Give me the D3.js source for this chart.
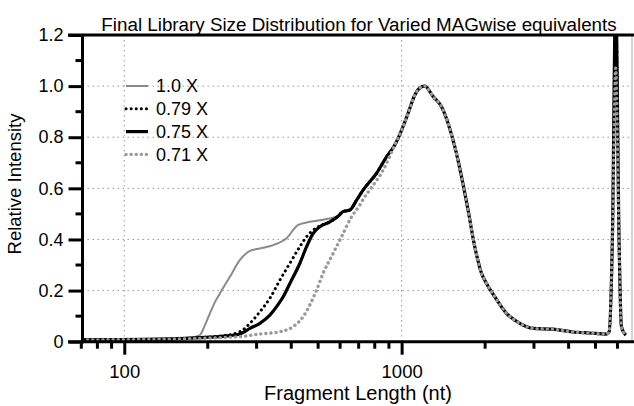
<!DOCTYPE html>
<html>
<head>
<meta charset="utf-8">
<script src="https://cdn.jsdelivr.net/npm/d3@7"></script>
<style>
  body { margin: 0; background: #fff; }
  svg { display: block; font-family: "Liberation Sans", Arial, sans-serif; }
</style>
</head>
<body>
<svg></svg>
<script>
// fragment length (nt) and relative intensity
// own left part of each curve
const size10 = [70.7, 96.5, 134.5, 172.5, 187.4, 195.4, 203.6, 212.3, 221.2, 240.4, 261.2, 283.8, 308.3, 344.3, 384.8, 423.7, 466.9, 536.3, 590.4];
const int10 = [0.011, 0.011, 0.013, 0.016, 0.026, 0.065, 0.111, 0.155, 0.189, 0.254, 0.320, 0.355, 0.365, 0.378, 0.405, 0.457, 0.469, 0.480, 0.492];

const size079 = [70.7, 123.8, 221.2, 261.2, 283.8, 308.3, 335, 364, 395.5, 429.7, 454.3, 479.9, 507.3, 551.2, 589];
const int079 = [0.007, 0.009, 0.022, 0.039, 0.072, 0.117, 0.170, 0.241, 0.307, 0.372, 0.411, 0.437, 0.453, 0.469, 0.490];

const size075 = [70.7, 123.8, 203.6, 240.4, 261.2, 283.8, 308.3, 335, 354.2, 374.1, 395.5, 429.7, 454.3, 479.9, 507.3, 551.2, 589];
const int075 = [0.007, 0.009, 0.018, 0.024, 0.030, 0.052, 0.072, 0.104, 0.137, 0.176, 0.228, 0.307, 0.372, 0.424, 0.450, 0.469, 0.490];

const size071 = [70.7, 123.8, 261.2, 308.3, 364, 406.4, 441.6, 466.9, 493.5, 521.3, 566.6, 607.4, 660, 707, 727, 768, 858];
const int071 = [0.007, 0.009, 0.020, 0.030, 0.039, 0.059, 0.098, 0.144, 0.202, 0.268, 0.346, 0.411, 0.489, 0.535, 0.558, 0.594, 0.672];

// shared by 1.0X, 0.79X and 0.75X once they merge
const sizeMid = [615, 651, 688, 727, 812, 882];
const intMid = [0.509, 0.515, 0.554, 0.594, 0.659, 0.723];

// all four curves overlap from here on
const sizeTail = [945, 1000, 1055, 1116, 1163, 1212, 1299, 1393, 1471, 1555, 1644, 1736, 1835, 1941, 2023, 2167, 2388, 2667, 2978, 3515, 4140, 4767, 5475];
const intTail = [0.770, 0.828, 0.894, 0.965, 0.993, 1.000, 0.959, 0.919, 0.854, 0.763, 0.646, 0.515, 0.372, 0.268, 0.228, 0.176, 0.111, 0.072, 0.052, 0.049, 0.038, 0.034, 0.030];

// upper marker spike, peak height differs per curve
const sizeMarker = [5596, 5754, 5913, 6078, 6200, 6427];
const intMarkerSides = [0.038, 0.41, null, 0.41, 0.059, 0.026];
const markerPeak = [1.07, 1.35, 1.35, 1.07];

const seriesNames = ["1.0 X", "0.79 X", "0.75 X", "0.71 X"];
const yTicks = [0, 0.2, 0.4, 0.6, 0.8, 1.0, 1.2];
const xMajor = [100, 1000];
const xMinor = [70, 80, 90, 200, 300, 400, 500, 600, 700, 800, 900, 2000, 3000, 4000, 5000, 6000];

const w = 634;
const h = 406;
const plot = { left: 82.5, right: 632, top: 35, bottom: 341.7 };

const svg = d3.select("svg").attr("width", w).attr("height", h);

const x = d3.scaleLog().domain([70.7, 6770]).range([plot.left, plot.right]);
const y = d3.scaleLinear().domain([0, 1.2]).range([plot.bottom, plot.top]);

function zipPts(s, v) {
  return s.map((d, i) => [d, v[i]]);
}
function build(k, head, withMid) {
  let pts = head.slice();
  if (withMid) pts = pts.concat(zipPts(sizeMid, intMid));
  pts = pts.concat(zipPts(sizeTail, intTail));
  const mk = intMarkerSides.map(v => (v === null ? markerPeak[k] : v));
  return pts.concat(zipPts(sizeMarker, mk));
}

const series = [
  { pts: build(0, zipPts(size10, int10), true), color: "#8a8a8a", width: 2, dash: null },
  { pts: build(1, zipPts(size079, int079), true), color: "#000", width: 3, dash: "0.1 5" },
  { pts: build(2, zipPts(size075, int075), true), color: "#000", width: 3.2, dash: null },
  { pts: build(3, zipPts(size071, int071), false), color: "#999", width: 3.4, dash: "0.1 5" }
];

// gridlines
const grid = svg.append("g").attr("stroke", "#999").attr("stroke-width", 1).attr("stroke-dasharray", "1.5 3.5");
grid.selectAll(".gy").data(yTicks.slice(1, -1)).enter().append("line")
  .attr("x1", plot.left).attr("x2", plot.right)
  .attr("y1", d => y(d)).attr("y2", d => y(d));
grid.selectAll(".gx").data(xMajor).enter().append("line")
  .attr("x1", d => x(d)).attr("x2", d => x(d))
  .attr("y1", plot.top).attr("y2", plot.bottom);

svg.append("clipPath").attr("id", "clip")
  .append("rect").attr("x", plot.left).attr("y", plot.top)
  .attr("width", plot.right - plot.left).attr("height", plot.bottom - plot.top);

const line = d3.line().x(d => x(d[0])).y(d => y(d[1])).curve(d3.curveMonotoneX);

svg.append("g").attr("clip-path", "url(#clip)")
  .selectAll("path").data(series).enter().append("path")
  .attr("d", d => line(d.pts))
  .attr("fill", "none")
  .attr("stroke", d => d.color)
  .attr("stroke-width", d => d.width)
  .attr("stroke-linecap", d => (d.dash ? "round" : "butt"))
  .attr("stroke-linejoin", "round")
  .attr("stroke-dasharray", d => d.dash);

// right border (thin) and top frame (thick)
svg.append("line").attr("x1", plot.right).attr("x2", plot.right).attr("y1", plot.top).attr("y2", plot.bottom)
  .attr("stroke", "#aaa").attr("stroke-width", 1);
svg.append("line").attr("x1", 68).attr("x2", w).attr("y1", plot.top).attr("y2", plot.top)
  .attr("stroke", "#000").attr("stroke-width", 3);

// y axis
const yAxis = svg.append("g").attr("transform", `translate(${plot.left},0)`);
yAxis.call(d3.axisLeft(y).tickValues(yTicks).tickSize(14).tickPadding(5)
  .tickFormat(d => (d === 0 ? "0" : d3.format(".1f")(d))));
yAxis.append("g").selectAll("line").data(d3.range(0.1, 1.2, 0.2)).enter().append("line")
  .attr("x1", -7).attr("x2", 0).attr("y1", d => y(d)).attr("y2", d => y(d));
yAxis.selectAll("line").attr("stroke", "#000").attr("stroke-width", 3);
yAxis.select(".domain").remove();
yAxis.append("line").attr("x1", 0).attr("x2", 0).attr("y1", plot.top).attr("y2", plot.bottom + 1.5)
  .attr("stroke", "#000").attr("stroke-width", 3);
yAxis.selectAll("text").attr("font-size", 18).attr("fill", "#000")
  .attr("font-family", "Liberation Sans, Arial, sans-serif");

// x axis
const xAxis = svg.append("g").attr("transform", `translate(0,${plot.bottom})`);
xAxis.call(d3.axisBottom(x).tickValues(xMajor).tickSize(13).tickPadding(10).tickFormat(d3.format("d")));
xAxis.append("g").selectAll("line").data(xMinor).enter().append("line")
  .attr("x1", d => x(d)).attr("x2", d => x(d)).attr("y1", 0).attr("y2", 7);
xAxis.selectAll("line").attr("stroke", "#000").attr("stroke-width", 3);
xAxis.select(".domain").remove();
xAxis.append("line").attr("x1", 68).attr("x2", w).attr("y1", 0).attr("y2", 0)
  .attr("stroke", "#000").attr("stroke-width", 3);
xAxis.selectAll("text").attr("font-size", 18.5).attr("fill", "#000")
  .attr("font-family", "Liberation Sans, Arial, sans-serif");

// legend
const legend = svg.append("g");
series.forEach((s, i) => {
  const ly = 86 + i * 22.8;
  legend.append("line").attr("x1", 126).attr("x2", 148).attr("y1", ly).attr("y2", ly)
    .attr("stroke", s.color).attr("stroke-width", s.width)
    .attr("stroke-linecap", s.dash ? "round" : "butt")
    .attr("stroke-dasharray", s.dash);
  legend.append("text").attr("x", 156).attr("y", ly).attr("dy", "0.35em")
    .attr("font-size", 18).text(seriesNames[i]);
});

// titles
svg.append("text").attr("x", 359).attr("y", 31).attr("text-anchor", "middle")
  .attr("font-size", 18.8).text("Final Library Size Distribution for Varied MAGwise equivalents");

svg.append("text").attr("x", 358).attr("y", 400).attr("text-anchor", "middle")
  .attr("font-size", 20).text("Fragment Length (nt)");

svg.append("text").attr("transform", "rotate(-90)")
  .attr("x", -184).attr("y", 21).attr("text-anchor", "middle")
  .attr("font-size", 18.5).text("Relative Intensity");
</script>
</body>
</html>
